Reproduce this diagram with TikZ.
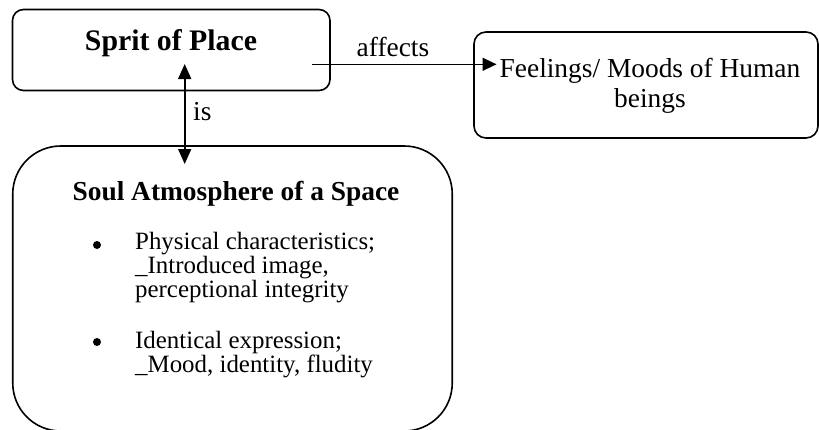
\documentclass[tikz,border=0pt]{standalone}
\usepackage{fontspec}
\setmainfont{Liberation Serif}
\usetikzlibrary{arrows.meta}
% let tight line pitches apply exactly
\newcommand\tightlines{\lineskiplimit=-30pt\relax\lineskip=0pt\relax}
\begin{document}
\begin{tikzpicture}[x=1pt,y=-1pt,
  box/.style={draw, line width=1.6pt, inner sep=0pt},
  txt/.style={font=\fontsize{27.4}{30}\selectfont, inner sep=0pt},
  itemtxt/.style={font=\fontsize{24.9}{23.8}\selectfont\tightlines, inner sep=0pt, anchor=base west, align=left},
  link/.style={line width=1.6pt, -{Triangle[width=13pt,length=14pt]}},
  bothlink/.style={line width=1.6pt, {Triangle[width=13pt,length=15pt]}-{Triangle[width=13pt,length=15pt]}}]
\useasboundingbox (0,0) rectangle (819,429);

% boxes
\node[box, rounded corners=11pt, minimum width=317.5pt, minimum height=81pt] (sprit) at (171.25,50) {};
\node[box, rounded corners=12pt, minimum width=344pt, minimum height=106pt] (feel) at (646,85) {};
\node[box, rounded corners=48pt, minimum width=439.5pt, minimum height=285pt] (soul) at (232.5,288.5) {};

% box texts (a multi-line node sits on the baseline of its last line)
\node[txt, anchor=base, font=\fontsize{29.8}{30}\selectfont] (spritT) at (171,50) {\bfseries Sprit of Place};
\node[txt, anchor=base, align=center] (feelT) at (650,107) {Feelings/ Moods of Human\\beings};
\node[txt, anchor=base] (soulT) at (236,200) {\bfseries Soul Atmosphere of a Space};

% bullet items
\fill (97,245) circle (4pt);
\fill (97,342) circle (4pt);
\node[itemtxt] (item1) at (135,297.5) {Physical characteristics;\\\_Introduced image,\\perceptional integrity};
\node[itemtxt] (item2) at (135,372) {Identical expression;\\\_Mood, identity, fludity};

% connectors
\coordinate (aStart) at (312,64.3);
\coordinate (aEnd) at (496.5,64.3);
\coordinate (isTop) at (184.7,64);
\coordinate (isBot) at (184.7,164);
\draw[link] (aStart) -- (aEnd);
\draw[bothlink] (isBot) -- (isTop);

% connector labels
\node[txt, anchor=base] (affL) at (393,56) {affects};
\node[txt, anchor=base west] (isL) at (193,120) {is};
\end{tikzpicture}
\end{document}
